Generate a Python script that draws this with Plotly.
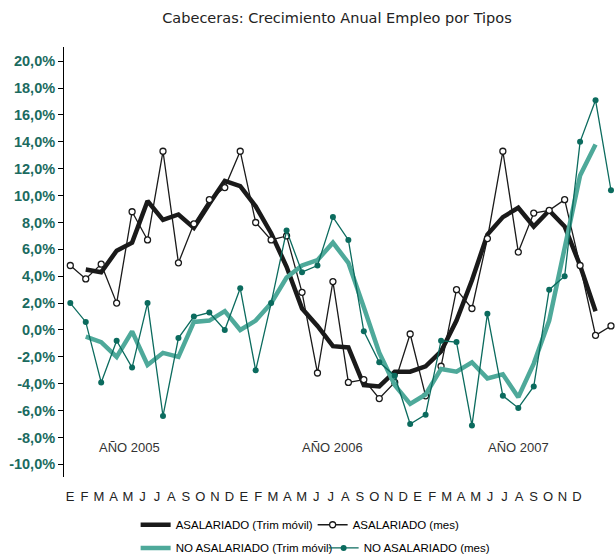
import plotly.graph_objects as go

# Month letters for Jan 2005 .. Dec 2007
months = ["E", "F", "M", "A", "M", "J", "J", "A", "S", "O", "N", "D"] * 3
idx = list(range(36))

# Annual growth (%) — wage earners, monthly
asal_mes = [4.8, 3.8, 4.9, 2.0, 8.8, 6.7, 13.3, 5.0, 7.9, 9.7, 10.6, 13.3,
            8.0, 6.7, 7.0, 2.8, -3.2, 3.6, -3.9, -3.7, -5.1, -3.9, -0.3, -4.9,
            -2.7, 3.0, 1.6, 6.8, 13.3, 5.8, 8.7, 8.9, 9.7, 4.8, -0.4, 0.3]
# Wage earners, rolling quarter (Feb 2005 .. Nov 2007)
asal_trim = [None, 4.5, 4.3, 5.9, 6.5, 9.6, 8.2, 8.6, 7.6, 9.4, 11.1, 10.7,
             9.2, 7.2, 4.7, 1.6, 0.3, -1.2, -1.3, -4.1, -4.2, -3.1, -3.1, -2.7,
             -1.6, 0.7, 3.7, 7.1, 8.4, 9.1, 7.7, 8.9, 7.7, 4.8, 1.4, None]
# Non-wage earners, monthly
noasal_mes = [2.0, 0.6, -3.9, -0.8, -2.8, 2.0, -6.4, -0.6, 1.0, 1.3, 0.0, 3.1,
              -3.0, 2.0, 7.4, 4.3, 4.8, 8.4, 6.7, -0.1, -2.4, -3.4, -7.0, -6.3,
              -0.8, -0.9, -7.1, 1.2, -4.9, -5.8, -4.2, 3.0, 4.0, 14.0, 17.1, 10.4]
# Non-wage earners, rolling quarter
noasal_trim = [None, -0.5, -0.9, -2.0, -0.1, -2.6, -1.7, -2.0, 0.6, 0.7, 1.4, 0.0,
               0.7, 2.0, 3.9, 4.8, 5.2, 6.5, 5.0, 1.7, -1.7, -4.1, -5.5, -4.8,
               -2.9, -3.1, -2.4, -3.6, -3.3, -5.0, -2.5, 0.7, 6.2, 11.5, 13.8, None]

year_labels = ["AÑO 2005", "AÑO 2006", "AÑO 2007"]
year_pos = [3.85, 17.0, 29.0]

y_ticks = [20, 18, 16, 14, 12, 10, 8, 6, 4, 2, 0, -2, -4, -6, -8, -10]
y_ticktext = [f"{v:.1f}%".replace(".", ",") for v in y_ticks]

BLACK = "#1a1a1a"
LIGHT_TEAL = "#4ea99a"
DARK_TEAL = "#0b6b5e"
LABEL_TEAL = "#1b6b5f"
SANS = "Liberation Sans, Arial, sans-serif"

fig = go.Figure()
fig.add_trace(go.Scatter(x=idx, y=asal_trim, mode="lines", name="ASALARIADO (Trim móvil)",
                         line=dict(color=BLACK, width=4.5), legend="legend"))
fig.add_trace(go.Scatter(x=idx, y=asal_mes, mode="lines+markers", name="ASALARIADO (mes)",
                         line=dict(color=BLACK, width=1.3),
                         marker=dict(symbol="circle", size=6, color="white",
                                     line=dict(color=BLACK, width=1.3)),
                         legend="legend"))
fig.add_trace(go.Scatter(x=idx, y=noasal_trim, mode="lines", name="NO ASALARIADO (Trim móvil)",
                         line=dict(color=LIGHT_TEAL, width=4.5), legend="legend2"))
fig.add_trace(go.Scatter(x=idx, y=noasal_mes, mode="lines+markers", name="NO ASALARIADO (mes)",
                         line=dict(color=DARK_TEAL, width=1.3),
                         marker=dict(symbol="circle", size=6, color=DARK_TEAL),
                         legend="legend2"))
# carrier for the month-letter axis
fig.add_trace(go.Scatter(x=idx, y=[None] * 36, xaxis="x2", showlegend=False,
                         hoverinfo="skip", mode="lines"))

for label, pos in zip(year_labels, year_pos):
    fig.add_annotation(x=pos, y=-8.75, xref="x", yref="y", text=label, showarrow=False,
                       font=dict(family=SANS, size=13, color="#333333"))

legend_common = dict(orientation="h", xanchor="left", yanchor="middle",
                     font=dict(family=SANS, size=11.5, color="black"),
                     itemwidth=30, bgcolor="rgba(0,0,0,0)", borderwidth=0)

fig.update_layout(
    width=615, height=559,
    margin=dict(l=64, r=0, t=47, b=82, autoexpand=False),
    paper_bgcolor="white", plot_bgcolor="white",
    title=dict(text="Cabeceras: Crecimiento Anual Empleo por Tipos",
               x=0.548, xanchor="center", y=0.968, yanchor="middle",
               font=dict(family="DejaVu Sans", size=14.5, color="#222222")),
    xaxis=dict(range=[-0.408, 35.26], showticklabels=False, showline=False,
               showgrid=False, zeroline=False, ticks=""),
    xaxis2=dict(overlaying="x", anchor="y", side="bottom", range=[-0.414, 37.62],
                tickmode="array", tickvals=idx, ticktext=months, ticks="",
                showline=False, showgrid=False, zeroline=False,
                ticklabelstandoff=10,
                tickfont=dict(family=SANS, size=13, color="#222222")),
    yaxis=dict(range=[-10.94, 21.06], tickmode="array", tickvals=y_ticks,
               ticktext=y_ticktext, showline=True, linecolor="black",
               linewidth=1, ticks="outside", ticklen=5, tickcolor="black",
               showgrid=False, zeroline=False,
               tickfont=dict(family=SANS, size=14.5, color=LABEL_TEAL, weight="bold")),
    legend=dict(x=0.13, y=-0.111, entrywidth=132, **legend_common),
    legend2=dict(x=0.13, y=-0.165, entrywidth=143, **legend_common),
    showlegend=True,
)

fig.write_html("out.html")
